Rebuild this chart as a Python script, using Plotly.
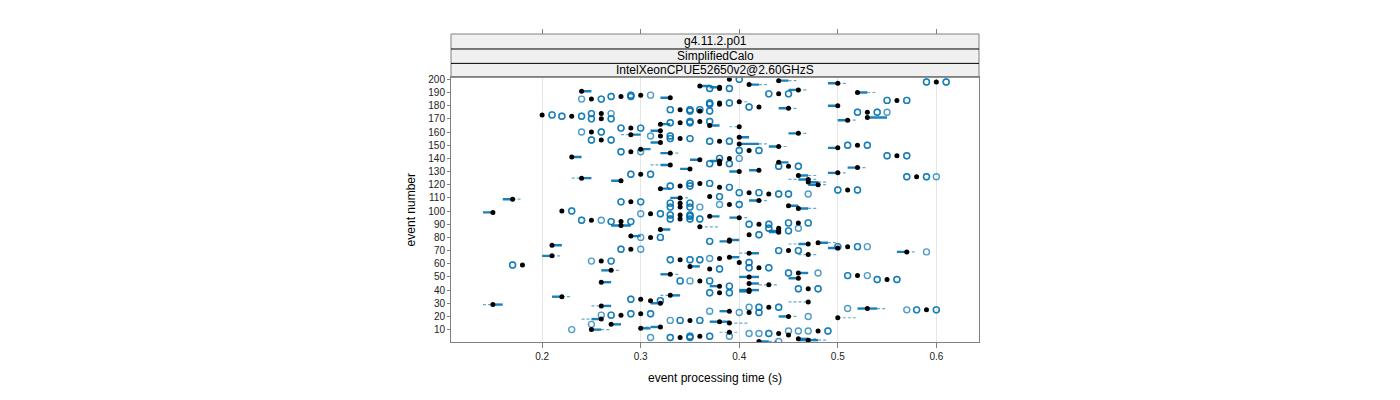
import plotly.graph_objects as go

# ---------------- data ----------------
event = [200, 199, 198, 197, 196, 195, 194, 193, 192, 191,
         190, 189, 188, 187, 186, 185, 184, 183, 182, 181,
         180, 179, 178, 177, 176, 175, 174, 173, 172, 171,
         170, 169, 168, 167, 166, 165, 164, 163, 161, 160,
         159, 158, 157, 156, 155, 154, 153, 152, 151, 150,
         149, 148, 147, 146, 145, 144, 142, 141, 140, 139,
         138, 137, 136, 135, 134, 133, 132, 131, 130, 129,
         128, 127, 126, 125, 124, 123, 122, 121, 120, 119,
         118, 117, 116, 114, 113, 111, 110, 109, 108, 107,
         106, 105, 104, 103, 102, 100, 99, 98, 97, 96,
         95, 94, 93, 92, 91, 90, 89, 88, 87, 86,
         85, 84, 82, 81, 80, 78, 77, 76, 75, 74,
         73, 72, 71, 70, 69, 68, 67, 66, 65, 64,
         63, 62, 61, 59, 58, 57, 56, 55, 53, 52,
         51, 50, 49, 48, 47, 46, 45, 44, 43, 41,
         40, 39, 38, 36, 35, 33, 32, 31, 30, 29,
         28, 27, 26, 25, 24, 23, 22, 21, 20, 19,
         18, 17, 16, 15, 14, 12, 11, 10, 9, 8,
         7, 6, 5, 4, 3, 2, 1]

median = [.39, .44, .60, .50, .41, .36, .38, .38, .46, .24,
          .52, .44, .30, .28, .33, .25, .56, .40, .38, .38,
          .50, .42, .45, .34, .36, .53, .26, .20, .23, .53,
          .26, .51, .36, .34, .32, .37, .40, .29, .32, .25,
          .46, .29, .32, .40, .34, .26, .38, .32, .40, .52,
          .44, .50, .30, .41, .29, .33, .56, .23, .39, .36,
          .38, .44, .38, .33, .45, .52, .35, .42, .40, .50,
          .30, .46, .58, .24, .47, .28, .47, .36, .48, .34,
          .38, .32, .51, .41, .43, .37, .34, .17, .42, .29,
          .34, .39, .45, .34, .46, .22, .15, .31, .34, .37,
          .40, .34, .25, .28, .46, .42, .28, .36, .44, .32,
          .44, .44, .41, .29, .31, .39, .39, .48, .47, .21,
          .51, .50, .29, .45, .57, .41, .47, .21, .39, .38,
          .34, .26, .40, .18, .35, .42, .37, .27, .46, .33,
          .52, .41, .46, .55, .36, .26, .41, .43, .38, .47,
          .41, .41, .38, .33, .22, .30, .31, .47, .32, .15,
          .26, .43, .53, .59, .39, .41, .30, .28, .45, .50,
          .26, .35, .38, .39, .27, .32, .30, .25, .48, .39,
          .44, .45, .36, .34, .46, .47, .42]

q1 = [.39, .44, .60, .49, .41, .36, .37, .38, .45, .24,
      .52, .44, .30, .28, .32, .25, .56, .40, .38, .38,
      .49, .42, .44, .34, .36, .53, .26, .20, .23, .53,
      .26, .50, .36, .34, .32, .37, .40, .29, .31, .25,
      .45, .29, .32, .40, .34, .26, .38, .31, .40, .52,
      .43, .49, .30, .41, .29, .32, .56, .23, .39, .35,
      .37, .44, .38, .32, .45, .51, .34, .41, .39, .49,
      .30, .46, .58, .24, .46, .27, .47, .36, .47, .34,
      .38, .32, .51, .41, .43, .37, .33, .16, .41, .29,
      .34, .39, .45, .34, .46, .22, .14, .31, .34, .37,
      .39, .34, .25, .28, .46, .42, .27, .36, .44, .32,
      .43, .43, .41, .29, .31, .39, .38, .48, .46, .21,
      .51, .49, .29, .45, .56, .41, .47, .20, .39, .38,
      .34, .26, .40, .18, .35, .42, .37, .26, .46, .32,
      .52, .40, .45, .55, .36, .26, .41, .43, .37, .47,
      .40, .40, .38, .33, .21, .30, .31, .47, .31, .15,
      .26, .43, .52, .59, .38, .41, .30, .28, .44, .50,
      .25, .35, .37, .39, .27, .31, .30, .25, .48, .39,
      .44, .45, .36, .34, .46, .46, .42]

q3 = [.39, .45, .60, .50, .42, .37, .38, .38, .46, .25,
      .53, .44, .30, .28, .33, .25, .56, .40, .38, .38,
      .50, .42, .45, .34, .36, .53, .26, .20, .23, .55,
      .26, .51, .36, .34, .33, .38, .40, .29, .32, .25,
      .46, .30, .32, .41, .34, .26, .38, .32, .42, .52,
      .44, .50, .31, .41, .29, .33, .56, .24, .39, .36,
      .38, .45, .38, .33, .45, .52, .35, .42, .40, .50,
      .30, .47, .58, .25, .47, .28, .48, .36, .48, .34,
      .38, .33, .51, .41, .43, .37, .34, .17, .42, .29,
      .34, .39, .46, .34, .47, .22, .15, .31, .34, .38,
      .40, .34, .25, .28, .46, .42, .29, .36, .44, .33,
      .44, .44, .41, .30, .31, .40, .39, .49, .47, .22,
      .51, .50, .29, .45, .57, .42, .47, .21, .40, .38,
      .34, .26, .40, .18, .36, .42, .37, .27, .47, .33,
      .52, .42, .46, .55, .36, .27, .42, .43, .38, .47,
      .42, .41, .38, .34, .22, .30, .31, .47, .32, .16,
      .27, .43, .54, .59, .39, .41, .30, .28, .45, .50,
      .26, .35, .39, .39, .28, .32, .31, .26, .48, .39,
      .44, .45, .36, .34, .47, .48, .43]

whisker_lo = [.39, .44, .60, .49, .41, .36, .37, .38, .45, .24,
              .52, .44, .30, .28, .32, .25, .56, .40, .38, .38,
              .49, .42, .44, .34, .36, .53, .26, .20, .23, .53,
              .26, .50, .36, .34, .32, .37, .39, .29, .31, .25,
              .45, .28, .32, .40, .34, .26, .38, .31, .40, .52,
              .43, .49, .30, .41, .29, .32, .56, .23, .39, .35,
              .37, .44, .38, .31, .45, .51, .34, .41, .39, .49,
              .30, .46, .58, .23, .45, .27, .47, .36, .47, .34,
              .38, .32, .51, .41, .43, .37, .33, .16, .41, .29,
              .34, .39, .45, .34, .46, .22, .14, .31, .34, .37,
              .39, .34, .25, .28, .46, .42, .27, .36, .44, .32,
              .43, .43, .41, .29, .31, .39, .38, .48, .45, .21,
              .51, .49, .29, .45, .56, .40, .46, .20, .39, .38,
              .34, .26, .40, .18, .35, .42, .37, .26, .46, .32,
              .52, .40, .45, .55, .36, .26, .41, .42, .37, .47,
              .40, .40, .38, .32, .21, .30, .31, .45, .31, .14,
              .25, .43, .52, .59, .38, .41, .30, .28, .44, .50,
              .24, .35, .37, .39, .27, .30, .30, .25, .48, .38,
              .44, .45, .36, .34, .46, .46, .42]

whisker_hi = [.39, .46, .60, .51, .43, .37, .38, .38, .47, .25,
              .54, .44, .30, .28, .33, .25, .56, .41, .38, .38,
              .50, .42, .46, .34, .36, .53, .26, .20, .23, .55,
              .26, .52, .36, .34, .33, .38, .40, .29, .32, .25,
              .47, .30, .32, .41, .34, .26, .38, .32, .43, .52,
              .45, .50, .31, .41, .29, .34, .56, .24, .39, .36,
              .38, .45, .38, .33, .45, .53, .35, .42, .40, .51,
              .30, .48, .58, .25, .48, .28, .49, .36, .49, .34,
              .38, .33, .51, .41, .43, .37, .35, .18, .43, .29,
              .34, .39, .46, .34, .48, .22, .15, .31, .34, .38,
              .41, .34, .25, .28, .46, .42, .29, .38, .44, .33,
              .44, .44, .41, .30, .31, .40, .39, .50, .47, .22,
              .51, .50, .29, .45, .58, .42, .48, .22, .40, .38,
              .34, .26, .40, .18, .36, .42, .37, .28, .47, .34,
              .52, .42, .46, .55, .36, .27, .42, .44, .38, .47,
              .42, .41, .38, .34, .23, .30, .31, .47, .32, .16,
              .27, .43, .55, .59, .39, .41, .30, .28, .46, .52,
              .26, .35, .39, .41, .28, .32, .31, .27, .48, .40,
              .44, .45, .36, .34, .48, .49, .44]

# outliers (repeated values overlap and look darker)
outlier_event = [200, 200, 198, 198, 198, 198, 193, 193, 193, 193,
                 189, 189, 189, 189, 188, 188, 188, 187, 187, 187, 187,
                 185, 185, 185, 184, 184, 184, 184, 182, 182, 182, 182,
                 181, 181, 179, 179, 177, 177, 177, 177, 177, 177,
                 176, 176, 176, 176, 175, 175, 175, 175, 175,
                 174, 174, 174, 173, 173, 172, 172, 172, 172,
                 170, 170, 170, 170, 168, 168, 168, 168, 167, 167, 167, 167,
                 163, 163, 163, 163, 160, 160, 160, 157, 157, 157,
                 155, 155, 155, 155, 154, 154, 154, 154, 153, 153, 153, 153,
                 150, 150, 150, 150, 146, 146, 146, 146, 145, 145, 145,
                 142, 142, 142, 142, 140, 140, 140, 136, 136, 136, 136,
                 134, 134, 134, 134, 128, 128, 128, 128, 126, 126, 126, 126, 126,
                 121, 121, 121, 121, 119, 119, 119, 119, 118, 118,
                 116, 116, 116, 116, 114, 114, 114, 114, 113, 113, 113, 113, 113,
                 111, 111, 107, 107, 107, 107, 106, 106, 106, 106, 105, 105, 105,
                 103, 103, 103, 103, 103, 100, 100, 98, 98, 98, 97, 97, 97, 97,
                 96, 96, 94, 94, 94, 94, 94, 94, 93, 93, 93, 92, 92, 92, 92,
                 91, 91, 91, 91, 90, 90, 90, 90, 87, 87, 87, 85, 85, 82, 82,
                 80, 80, 80, 77, 77, 73, 73, 73, 73, 73, 71, 71, 71,
                 70, 70, 70, 70, 69, 64, 63, 63, 63, 63, 63, 63, 62, 62, 62,
                 61, 61, 59, 59, 57, 57, 57, 57, 56, 56, 53, 53, 53, 51, 51, 51,
                 48, 48, 48, 48, 47, 47, 47, 47, 47, 43, 43, 41, 41, 41, 41,
                 38, 38, 38, 38, 33, 33, 32, 32, 27, 27, 27, 27, 27, 26,
                 25, 25, 25, 25, 25, 24, 23, 23, 23, 22, 22, 22, 22, 21, 21, 21,
                 20, 17, 17, 17, 17, 17, 14, 10, 9, 9, 9, 9, 9, 7, 7, 7, 7,
                 5, 5, 5, 5, 5, 4, 4, 4, 4, 4, 1]

outlier_value = [.40, .40, .59, .59, .61, .61, .37, .37, .39, .39,
                 .43, .43, .45, .45, .29, .29, .31, .27, .27, .29, .29,
                 .24, .26, .26, .55, .55, .57, .57, .37, .37, .39, .39,
                 .37, .37, .41, .41, .33, .33, .35, .35, .36, .36,
                 .35, .35, .37, .37, .52, .52, .54, .54, .55,
                 .25, .25, .27, .21, .21, .22, .22, .24, .24,
                 .25, .25, .27, .27, .35, .35, .37, .37, .33, .33, .35, .35,
                 .28, .28, .30, .30, .24, .26, .26, .31, .33, .33,
                 .33, .33, .35, .35, .25, .25, .27, .27, .37, .37, .39, .39,
                 .51, .51, .53, .53, .40, .40, .42, .42, .28, .28, .30,
                 .55, .55, .57, .57, .38, .38, .40, .37, .37, .39, .39,
                 .44, .44, .46, .46, .29, .29, .31, .31, .57, .57, .59, .59, .60,
                 .35, .35, .37, .37, .33, .33, .35, .35, .39, .39,
                 .50, .50, .52, .52, .40, .40, .42, .42, .44, .44, .45, .45, .47,
                 .38, .38, .28, .28, .30, .30, .33, .33, .35, .35, .38, .40, .40,
                 .33, .33, .35, .35, .36, .23, .23, .30, .32, .32, .33, .33, .35, .35,
                 .35, .35, .33, .33, .35, .35, .36, .36, .24, .24, .26, .27, .27, .29, .29,
                 .45, .45, .47, .47, .41, .41, .43, .43, .43, .43, .46, .45, .45, .42, .42,
                 .30, .32, .32, .37, .37, .50, .50, .52, .52, .53, .28, .28, .30,
                 .44, .44, .46, .46, .59, .37, .33, .33, .35, .35, .36, .36, .25, .27, .27,
                 .41, .41, .17, .17, .41, .41, .43, .43, .38, .38, .45, .45, .48, .51, .51, .53,
                 .54, .54, .56, .56, .34, .34, .35, .37, .37, .39, .39, .46, .46, .48, .48,
                 .37, .37, .39, .39, .29, .29, .32, .32, .41, .42, .42, .44, .44, .51,
                 .57, .58, .58, .60, .60, .37, .40, .42, .42, .29, .29, .31, .31, .26, .27, .27,
                 .47, .33, .34, .34, .36, .36, .25, .23, .45, .46, .47, .49, .49, .41, .42, .43, .43,
                 .35, .35, .37, .37, .39, .31, .33, .33, .35, .35, .44]

x_ticks = [0.2, 0.3, 0.4, 0.5, 0.6]
x_tick_labels = ["0.2", "0.3", "0.4", "0.5", "0.6"]
y_ticks = list(range(10, 201, 10))
strip_labels = ["g4.11.2.p01", "SimplifiedCalo", "IntelXeonCPUE52650v2@2.60GHzS"]

# ---------------- styling / layout constants ----------------
BLUE = "0,114,178"
FONT = "Liberation Sans, Arial, Helvetica, sans-serif"
W, H = 1400, 400
left_px, right_px = 450.5, 979.5
paper_top_px = 34.3
panel_top_px, panel_bottom_px = 77.7, 342.5
plot_h = panel_bottom_px - paper_top_px


def py(px):
    return (panel_bottom_px - px) / plot_h


dom_top = py(panel_top_px)
strip_edges_px = [34.3, 49.3, 63.7, 77.7]

# ---------------- build traces ----------------
wx, wy, bx, by = [], [], [], []
for e, lo, a, b, hi in zip(event, whisker_lo, q1, q3, whisker_hi):
    if a - lo > 1e-9:
        wx += [lo, a, None]
        wy += [e, e, None]
    if hi - b > 1e-9:
        wx += [b, hi, None]
        wy += [e, e, None]
    if b - a > 1e-9:
        bx += [a, b, None]
        by += [e, e, None]

fig = go.Figure()
fig.add_trace(go.Scatter(x=wx, y=wy, mode="lines", hoverinfo="skip", showlegend=False,
                         line=dict(color=f"rgba({BLUE},0.6)", width=1.2, dash="3px,2px")))
fig.add_trace(go.Scatter(x=bx, y=by, mode="lines", hoverinfo="skip", showlegend=False,
                         line=dict(color=f"rgba({BLUE},0.9)", width=2.4)))
fig.add_trace(go.Scatter(x=outlier_value, y=outlier_event, mode="markers", showlegend=False,
                         marker=dict(symbol="circle-open", size=6, color=f"rgba({BLUE},0.7)",
                                     line=dict(width=1.4))))
fig.add_trace(go.Scatter(x=median, y=event, mode="markers", showlegend=False,
                         marker=dict(symbol="circle", size=5, color="black", line=dict(width=0))))

xr = [0.1075, 0.6433]
shapes = []
for i in range(3):
    shapes.append(dict(type="rect", xref="paper", yref="paper", x0=0, x1=1,
                       y0=py(strip_edges_px[i + 1]), y1=py(strip_edges_px[i]),
                       fillcolor="#f0f0f0", line=dict(width=0), layer="below"))
shapes.append(dict(type="rect", xref="paper", yref="paper", x0=0, x1=1,
                   y0=dom_top, y1=1, line=dict(color="#808080", width=1)))
for px in strip_edges_px[1:3]:
    shapes.append(dict(type="line", xref="paper", yref="paper", x0=0, x1=1,
                       y0=py(px), y1=py(px), line=dict(color="#000000", width=1)))

annotations = []
for i, lab in enumerate(strip_labels):
    yc = py((strip_edges_px[i] + strip_edges_px[i + 1]) / 2)
    annotations.append(dict(text=lab, xref="paper", yref="paper", x=0.5, y=yc,
                            showarrow=False, xanchor="center", yanchor="middle",
                            font=dict(family=FONT, size=12, color="#000000")))

fig.update_layout(
    width=W, height=H, autosize=False,
    paper_bgcolor="white", plot_bgcolor="white",
    margin=dict(l=left_px, r=W - right_px, t=paper_top_px, b=H - panel_bottom_px, pad=0),
    font=dict(family=FONT, size=10, color="#222222"),
    shapes=shapes, annotations=annotations, showlegend=False,
    xaxis=dict(range=xr, tickvals=x_ticks, ticktext=x_tick_labels, ticks="outside",
               ticklen=5, tickcolor="#808080", showline=True, linecolor="#808080",
               linewidth=1, mirror=True, showgrid=True, gridcolor="#e6e6e6",
               zeroline=False, tickfont=dict(size=10, color="#222222"),
               title=dict(text="event processing time (s)", standoff=12,
                          font=dict(size=12, color="#000000"))),
    xaxis2=dict(range=xr, overlaying="x", side="top", anchor="free", position=1,
                tickvals=x_ticks, ticks="outside", ticklen=5, tickcolor="#808080",
                showticklabels=False, showgrid=False, showline=False, zeroline=False),
    yaxis=dict(domain=[0, dom_top], range=[0.6, 201.5], tickvals=y_ticks,
               ticks="outside", ticklen=3, tickcolor="#808080", showline=True,
               linecolor="#808080", linewidth=1, mirror=True, showgrid=False,
               zeroline=False, tickfont=dict(size=10, color="#222222"),
               title=dict(text="event number", standoff=10,
                          font=dict(size=12, color="#000000"))),
)
# invisible anchor trace so the top tick axis is rendered
fig.add_trace(go.Scatter(x=[None], y=[None], xaxis="x2", yaxis="y", showlegend=False,
                         hoverinfo="skip"))

fig.write_html("out.html")
